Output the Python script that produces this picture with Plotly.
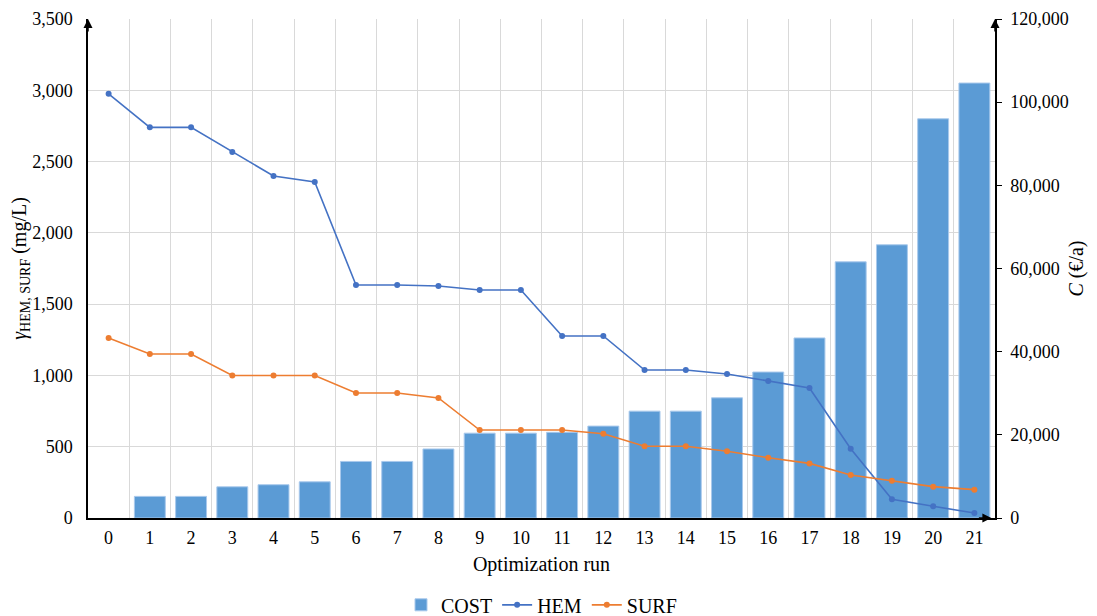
import plotly.graph_objects as go

runs = [str(i) for i in range(22)]
cost = [None, 5200, 5200, 7500, 8000, 8700, 13600, 13600, 16600, 20400, 20400, 20600,
        22100, 25700, 25700, 28900, 35100, 43300, 61600, 65700, 96000, 104600]
hem = [2975, 2740, 2740, 2567, 2399, 2357, 1634, 1634, 1627, 1599, 1599, 1277,
       1277, 1038, 1038, 1010, 961, 912, 486, 131, 82, 35]
surf = [1263, 1150, 1150, 1000, 1000, 1000, 877, 877, 842, 617, 617, 617,
        591, 503, 503, 468, 423, 383, 302, 262, 220, 199]

FONT = "Times New Roman, Liberation Serif, DejaVu Serif, serif"

fig = go.Figure()
fig.add_trace(go.Bar(x=runs, y=cost, name="COST", yaxis="y",
                     marker=dict(color="#5B9BD5", line=dict(color="#A9C9EC", width=1))))
fig.add_trace(go.Scatter(x=runs, y=hem, name="HEM", yaxis="y2", mode="lines+markers",
                         line=dict(color="#4472C4", width=1.6),
                         marker=dict(color="#4472C4", size=6)))
fig.add_trace(go.Scatter(x=runs, y=surf, name="SURF", yaxis="y2", mode="lines+markers",
                         line=dict(color="#ED7D31", width=1.6),
                         marker=dict(color="#ED7D31", size=6)))

fig.update_layout(
    width=1097, height=616,
    margin=dict(l=80, r=110, t=11, b=106, autoexpand=False),
    plot_bgcolor="white", paper_bgcolor="white",
    font=dict(family=FONT, size=18, color="black"),
    bargap=0.25,
    showlegend=True,
    legend=dict(orientation="h", x=0.5, xanchor="center", y=-0.174, yanchor="middle",
                font=dict(family=FONT, size=20, color="black"), itemwidth=30,
                traceorder="normal"),
    xaxis=dict(type="category", range=[-0.5, 21.5], tickson="boundaries", showgrid=True,
               gridcolor="#D9D9D9", gridwidth=1, showline=True, linecolor="black",
               linewidth=1.5, ticks="", automargin=False,
               tickfont=dict(family=FONT, size=18), ticklabelstandoff=3,
               title=dict(text="Optimization run", standoff=10,
                          font=dict(family=FONT, size=20))),
    yaxis=dict(side="right", range=[0, 120000], dtick=20000, tickformat=",",
               showgrid=False, showline=True, linecolor="black", linewidth=1.5,
               ticks="outside", ticklen=5, tickcolor="black", zeroline=False,
               automargin=False, tickfont=dict(family=FONT, size=18),
               ticklabelstandoff=5,
               title=dict(text="<i>C</i> (€/a)", standoff=1,
                          font=dict(family=FONT, size=20))),
    yaxis2=dict(side="left", overlaying="y", range=[0, 3500], dtick=500, tickformat=",",
                showgrid=True, gridcolor="#D9D9D9", gridwidth=1, showline=True,
                linecolor="black", linewidth=1.5, ticks="", zeroline=False,
                automargin=False, tickfont=dict(family=FONT, size=18),
                ticklabelstandoff=10,
                title=dict(text="<i>γ</i><sub>HEM, SURF</sub> (mg/L)", standoff=12,
                           font=dict(family=FONT, size=20))),
)

arrow = dict(xref="paper", yref="paper", text="", showarrow=True, arrowhead=2,
             arrowsize=1.2, arrowwidth=1.5, arrowcolor="black")
fig.add_annotation(x=0, y=1, ax=0, ay=14, **arrow)
fig.add_annotation(x=1, y=1, ax=0, ay=14, **arrow)
fig.add_annotation(x=0.996, y=0, ax=-14, ay=0, **arrow)

fig.write_html("out.html")
